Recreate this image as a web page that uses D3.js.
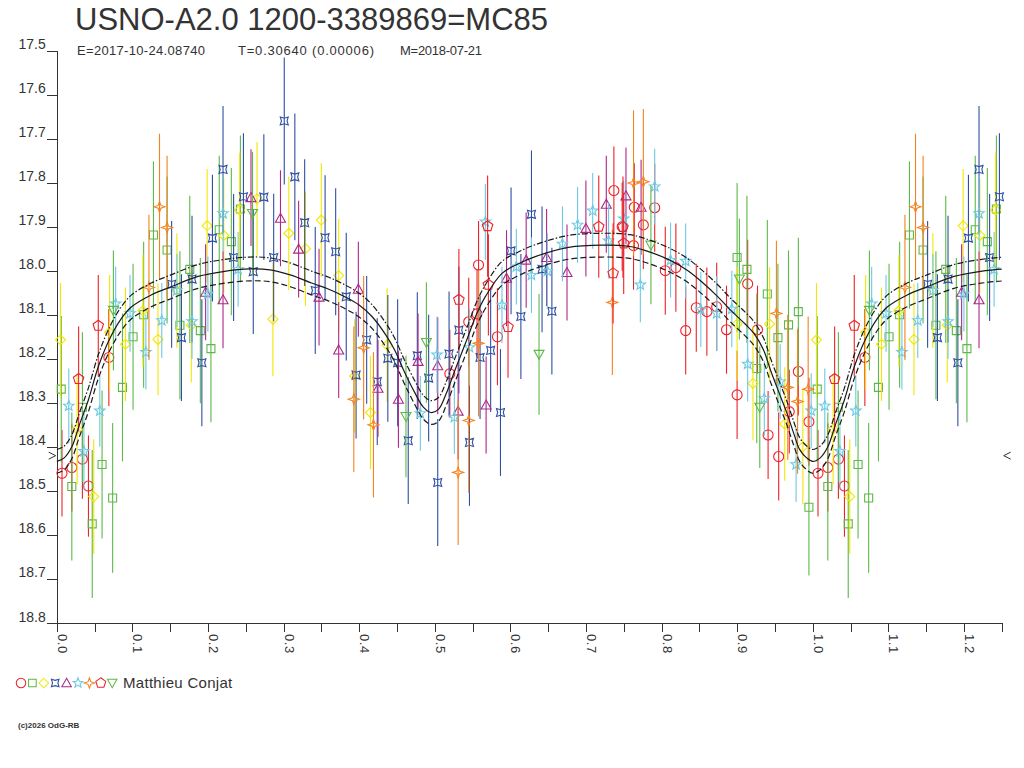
<!DOCTYPE html>
<html>
<head>
<meta charset="utf-8">
<script src="https://cdnjs.cloudflare.com/ajax/libs/d3/7.8.5/d3.min.js"></script>
<style>
  body { margin: 0; background: #fff; }
  svg { display: block; font-family: "Liberation Sans", Arial, sans-serif; }
  .axis path, .axis line { stroke: #333; shape-rendering: crispEdges; }
  .axis text { fill: #333; }
</style>
</head>
<body>
<svg id="chart" width="1024" height="768"></svg>
<script>
// observations: [phase, magnitude, error]
var redCircles = [
  [0.007,18.460,0.098],[0.020,18.447,0.10],[0.034,18.428,0.09],[0.042,18.489,0.115],[0.069,18.197,0.11],
  [0.520,18.234,0.10],[0.545,18.116,0.10],[0.556,18.098,0.10],[0.558,17.987,0.10],[0.583,18.150,0.11],
  [0.737,17.818,0.10],[0.748,17.900,0.10],[0.763,17.943,0.10],[0.764,17.856,0.10],[0.776,17.896,0.10],
  [0.791,17.857,0.10],[0.805,18.000,0.10],[0.819,17.993,0.10],[0.832,18.136,0.10],[0.846,18.084,0.10],
  [0.860,18.093,0.10],[0.873,18.082,0.10],[0.886,18.134,0.10],[0.900,18.282,0.10],[0.914,18.030,0.10],
  [0.927,18.134,0.10],[0.941,18.373,0.10],[0.955,18.422,0.10],[0.969,18.320,0.095],[0.981,18.229,0.10],
  [0.995,18.343,0.10]
];
var greenSquares = [
  [0.006,18.269,0.166],[0.020,18.490,0.168],[0.034,18.310,0.17],[0.047,18.575,0.168],[0.060,18.440,0.168],
  [0.074,18.516,0.17],[0.087,18.265,0.168],[0.101,18.150,0.166],[0.115,18.100,0.166],[0.128,17.919,0.167],
  [0.146,17.953,0.167],[0.163,18.124,0.168],[0.176,17.997,0.167],[0.190,18.136,0.165],[0.204,18.177,0.167],
  [0.215,17.907,0.168],[0.231,17.934,0.167],[0.243,17.860,0.167],
  [0.900,17.970,0.169],[0.913,17.997,0.167],[0.926,18.222,0.17],[0.940,18.053,0.168],[0.954,18.152,0.168],
  [0.968,18.123,0.169],[0.981,18.093,0.168],[0.995,18.537,0.155]
];
var yellowDiamonds = [
  [0.005,18.157,0.129],[0.027,18.360,0.125],[0.049,18.513,0.13],[0.070,18.140,0.13],[0.091,18.167,0.129],
  [0.114,18.091,0.127],[0.134,18.156,0.127],[0.159,18.045,0.13],[0.178,18.124,0.13],[0.199,17.898,0.129],
  [0.221,17.920,0.13],[0.242,17.862,0.13],[0.265,17.837,0.129],[0.286,18.110,0.129],[0.307,17.915,0.129],
  [0.329,17.950,0.13],[0.350,17.885,0.129],[0.373,18.011,0.129],[0.394,18.239,0.129],[0.415,18.322,0.129],
  [0.437,18.169,0.129],
  [0.900,18.121,0.129],[0.921,18.256,0.129],[0.943,18.121,0.129],[0.963,18.348,0.129],[0.987,18.400,0.13]
];
var blueHourglasses = [
  [0.152,18.031,0.144],[0.165,18.152,0.144],[0.179,18.019,0.144],[0.192,18.209,0.144],[0.206,17.926,0.144],
  [0.220,17.770,0.144],[0.234,17.970,0.144],[0.247,17.832,0.144],[0.260,18.002,0.142],[0.274,17.833,0.143],
  [0.287,17.970,0.145],[0.301,17.660,0.144],[0.315,17.787,0.144],[0.328,17.891,0.144],[0.342,18.045,0.144],
  [0.355,17.925,0.142],[0.369,17.957,0.144],[0.383,18.059,0.145],[0.396,18.237,0.144],[0.410,18.157,0.145],
  [0.424,18.252,0.144],[0.438,18.199,0.144],[0.451,18.209,0.144],[0.465,18.386,0.144],[0.477,18.193,0.144],
  [0.492,18.244,0.144],[0.504,18.481,0.144],[0.519,18.189,0.142],[0.532,18.135,0.144],[0.546,18.390,0.144],
  [0.560,18.197,0.14],[0.574,18.181,0.14],[0.587,18.322,0.144],[0.601,17.955,0.144],[0.614,18.104,0.142],
  [0.628,17.872,0.145],[0.642,17.997,0.143],[0.655,18.092,0.144]
];
var purpleTriangles = [
  [0.197,18.049,0.109],[0.220,18.066,0.11],[0.257,17.834,0.11],[0.296,17.881,0.109],[0.320,17.951,0.11],
  [0.347,18.060,0.11],[0.373,18.180,0.109],[0.399,18.042,0.108],[0.425,18.267,0.11],[0.452,18.292,0.11],
  [0.478,18.206,0.109],[0.504,18.216,0.11],[0.531,18.319,0.11],[0.568,18.305,0.11],[0.595,18.017,0.109],
  [0.621,17.976,0.108],[0.648,17.970,0.11],[0.675,18.004,0.109],[0.700,17.904,0.109],[0.727,17.849,0.11],
  [0.753,17.830,0.11],[0.773,17.856,0.108]
];
var cyanStars = [
  [0.016,18.307,0.085],[0.036,18.410,0.087],[0.057,18.318,0.081],[0.078,18.075,0.084],[0.097,18.097,0.087],
  [0.118,18.185,0.085],[0.139,18.113,0.085],[0.159,18.045,0.083],[0.179,18.115,0.085],[0.200,18.053,0.085],
  [0.220,17.870,0.087],[0.240,17.997,0.085],
  [0.481,18.324,0.085],[0.503,18.191,0.087],[0.526,18.333,0.083],[0.546,18.174,0.087],[0.567,17.889,0.086],
  [0.589,18.078,0.087],[0.608,17.991,0.086],[0.628,18.010,0.086],[0.649,18.001,0.086],[0.669,17.939,0.085],
  [0.689,17.896,0.086],[0.709,17.864,0.086],[0.730,17.932,0.086],[0.750,17.882,0.086],[0.772,18.032,0.085],
  [0.791,17.809,0.086],[0.812,17.976,0.085],[0.832,17.978,0.085],[0.852,18.088,0.085],[0.873,18.097,0.085],
  [0.893,18.087,0.087],[0.914,18.212,0.085],[0.936,18.290,0.085],[0.957,18.252,0.085],[0.978,18.440,0.085],
  [0.998,18.318,0.085]
];
var orangeSparkles = [
  [0.122,18.038,0.165],[0.136,17.855,0.166],[0.146,17.902,0.163],
  [0.393,18.292,0.165],[0.406,18.175,0.163],[0.419,18.350,0.165],[0.531,18.458,0.165],[0.545,18.340,0.164],
  [0.558,18.165,0.166],[0.735,18.072,0.165],[0.763,17.801,0.165],[0.776,17.798,0.165],[0.952,18.097,0.165],
  [0.967,18.265,0.165],[0.980,18.297,0.164],[0.994,18.269,0.165]
];
var redPentagons = [
  [0.029,18.246,0.119],[0.055,18.125,0.115],[0.532,18.066,0.115],[0.570,17.899,0.115],[0.571,18.032,0.115],
  [0.597,18.128,0.115],[0.717,17.900,0.116],[0.736,18.006,0.114],[0.749,17.901,0.115],[0.750,17.938,0.115]
];
var greenDownTriangles = [
  [0.075,18.090,0.136],[0.259,17.870,0.14],[0.462,18.331,0.138],[0.489,18.163,0.137],[0.638,18.190,0.137],
  [0.786,17.942,0.134],[0.903,18.019,0.137],[0.930,18.310,0.138]
];

// fitted light curve
var modelPhase = [0.000,0.010,0.020,0.030,0.042,0.055,0.070,0.085,0.099,0.125,0.152,0.187,0.220,0.256,0.282,
  0.310,0.337,0.360,0.381,0.400,0.417,0.435,0.447,0.460,0.474,0.485,0.495,0.505,0.515,0.527,0.544,0.555,0.567,
  0.589,0.610,0.633,0.677,0.721,0.758,0.780,0.811,0.835,0.855,0.875,0.891,0.910,0.922,0.935,0.944,0.955,0.966,
  0.975,0.983,0.992,1.000];
var modelMag = [18.433,18.425,18.400,18.350,18.293,18.218,18.155,18.110,18.082,18.055,18.036,18.013,18.002,
  17.996,17.998,18.010,18.028,18.042,18.059,18.078,18.104,18.145,18.180,18.230,18.278,18.310,18.322,18.315,
  18.280,18.225,18.150,18.100,18.059,18.006,17.985,17.968,17.947,17.942,17.945,17.955,17.976,18.000,18.028,
  18.060,18.089,18.120,18.142,18.180,18.225,18.275,18.324,18.370,18.407,18.425,18.433];
var envelope = 0.027;
var limitMag = 18.42;

var seriesNames = ["circle", "square", "diamond", "hourglass", "triangle", "star", "sparkle", "pentagon", "downTriangle"];
var seriesColors = ["#ee2229", "#5cb947", "#f3e600", "#2f4fa3", "#ae2788", "#6cc9e3", "#f5821f", "#ee2229", "#5cb947"];
var seriesData = [redCircles, greenSquares, yellowDiamonds, blueHourglasses, purpleTriangles, cyanStars,
  orangeSparkles, redPentagons, greenDownTriangles];

var title = "USNO-A2.0 1200-3389869=MC85";
var subtitleParts = ["E=2017-10-24.08740", "T=0.30640 (0.00006)", "M=2018-07-21"];
var observer = "Matthieu Conjat";
var copyright = "(c)2026 OdG-RB";

var svg = d3.select("#chart");
var x = d3.scaleLinear().domain([0, 1.25]).range([56.7, 1001.7]);
var y = d3.scaleLinear().domain([17.5, 18.8]).range([50.5, 623]);

function polyPath(n, r, rot) {
  var pts = [];
  for (var k = 0; k < n; k++) {
    var a = rot + k * 2 * Math.PI / n;
    pts.push([r * Math.sin(a), -r * Math.cos(a)]);
  }
  return "M" + pts.map(function (p) { return p[0].toFixed(2) + "," + p[1].toFixed(2); }).join("L") + "Z";
}
function starPath(r1, r2) {
  var s = "";
  for (var k = 0; k < 10; k++) {
    var r = k % 2 === 0 ? r1 : r2;
    var a = k * Math.PI / 5;
    s += (k === 0 ? "M" : "L") + (r * Math.sin(a)).toFixed(2) + "," + (-r * Math.cos(a)).toFixed(2);
  }
  return s + "Z";
}
var shapes = {
  circle: "M5,0A5,5 0 1,1 -5,0A5,5 0 1,1 5,0Z",
  square: "M-4,-4H4V4H-4Z",
  diamond: "M0,-5L5,0L0,5L-5,0Z",
  hourglass: "M-4,-4L0,-2.8L4,-4L2.8,0L4,4L0,2.8L-4,4L-2.8,0Z",
  triangle: "M0,-5L5,4L-5,4Z",
  star: starPath(5.5, 2.3),
  sparkle: "M0,-5.5L1.4,-1.4L5.5,0L1.4,1.4L0,5.5L-1.4,1.4L-5.5,0L-1.4,-1.4Z",
  pentagon: polyPath(5, 5.5, 0),
  downTriangle: "M-5,-4L5,-4L0,5Z"
};

// repeat the first quarter of phase after 1.0
function withRepeat(list) {
  var out = list.slice();
  list.forEach(function (d) { if (d[0] <= 0.25) out.push([d[0] + 1, d[1], d[2]]); });
  return out;
}

// title block
svg.append("text").attr("x", 75).attr("y", 30).attr("fill", "#333")
  .style("font-size", "31px").text(title);
var subX = [77, 238, 400];
var subLen = [128, 136, 82];
subtitleParts.forEach(function (t, i) {
  svg.append("text").attr("x", subX[i]).attr("y", 55).attr("fill", "#333")
    .attr("textLength", subLen[i]).attr("lengthAdjust", "spacing")
    .style("font-size", "13px").text(t);
});

// axes
var yAxis = d3.axisLeft(y).tickValues(d3.range(0, 14).map(function (i) { return 17.5 + i / 10; }))
  .tickFormat(d3.format(".1f")).tickSize(10).tickPadding(1).tickSizeOuter(0);
var gy = svg.append("g").attr("class", "axis").attr("transform", "translate(" + x(0) + ",0)").call(yAxis);
gy.selectAll("text").attr("dy", "-2px").style("font-size", "14px");

var xAxis = d3.axisBottom(x).tickValues(d3.range(0, 26).map(function (i) { return i / 20; }))
  .tickFormat(function (d, i) { return i % 2 === 0 ? d3.format(".1f")(d) : ""; })
  .tickSize(9).tickSizeOuter(0);
var gx = svg.append("g").attr("class", "axis").attr("transform", "translate(0," + y(18.8) + ")").call(xAxis);
gx.selectAll("text").attr("x", 0).attr("y", 0).attr("dy", 0)
  .attr("transform", "translate(0.5,11) rotate(90)")
  .style("text-anchor", "start").style("font-size", "13px").style("letter-spacing", "0.6px");
svg.selectAll(".axis .domain").attr("stroke", "#333");

// limit markers
svg.append("path").attr("d", "M" + (x(0) - 8) + "," + (y(limitMag) - 3.5) + "l7,3.5l-7,3.5")
  .attr("fill", "none").attr("stroke", "#333");
svg.append("path").attr("d", "M" + (x(1.25) + 9) + "," + (y(limitMag) - 3.5) + "l-7,3.5l7,3.5")
  .attr("fill", "none").attr("stroke", "#333");

// observations
seriesData.forEach(function (list, si) {
  var pts = withRepeat(list);
  var g = svg.append("g").attr("stroke", seriesColors[si]).attr("fill", "none");
  g.selectAll("line").data(pts).enter().append("line")
    .attr("x1", function (d) { return x(d[0]); }).attr("x2", function (d) { return x(d[0]); })
    .attr("y1", function (d) { return y(d[1] - d[2]); }).attr("y2", function (d) { return y(d[1] + d[2]); })
    .attr("stroke-width", 1.1);
  g.selectAll("path").data(pts).enter().append("path")
    .attr("d", shapes[seriesNames[si]])
    .attr("transform", function (d) { return "translate(" + x(d[0]) + "," + y(d[1]) + ")"; })
    .attr("stroke-width", 1.1);
});

// model curve with envelopes
var curvePts = modelPhase.map(function (p, i) { return [p, modelMag[i]]; });
modelPhase.forEach(function (p, i) { if (p > 0 && p <= 0.3) curvePts.push([p + 1, modelMag[i]]); });
svg.append("clipPath").attr("id", "plotclip").append("rect")
  .attr("x", x(0)).attr("y", y(17.5)).attr("width", x(1.25) - x(0)).attr("height", y(18.8) - y(17.5));
var curveG = svg.append("g").attr("clip-path", "url(#plotclip)").attr("fill", "none").attr("stroke", "#1a1a1a");
[[0, null], [-envelope, "6,2,1.5,2"], [envelope, "6,3"]].forEach(function (c) {
  var line = d3.line().curve(d3.curveCatmullRom.alpha(0.5))
    .x(function (d) { return x(d[0]); }).y(function (d) { return y(d[1] + c[0]); });
  curveG.append("path").datum(curvePts).attr("d", line)
    .attr("stroke-width", 1.2).attr("stroke-dasharray", c[1]);
});

// legend
seriesNames.forEach(function (s, i) {
  svg.append("path").attr("d", shapes[s])
    .attr("transform", "translate(" + (21 + i * 11.4) + ",683) scale(0.95)")
    .attr("fill", "none").attr("stroke", seriesColors[i]).attr("stroke-width", 1.1);
});
svg.append("text").attr("x", 123).attr("y", 688).attr("fill", "#333")
  .style("font-size", "15px").style("letter-spacing", "0.3px").text(observer);
svg.append("text").attr("x", 18).attr("y", 728).attr("fill", "#333")
  .style("font-size", "8px").style("font-weight", "bold").text(copyright);
</script>
</body>
</html>
